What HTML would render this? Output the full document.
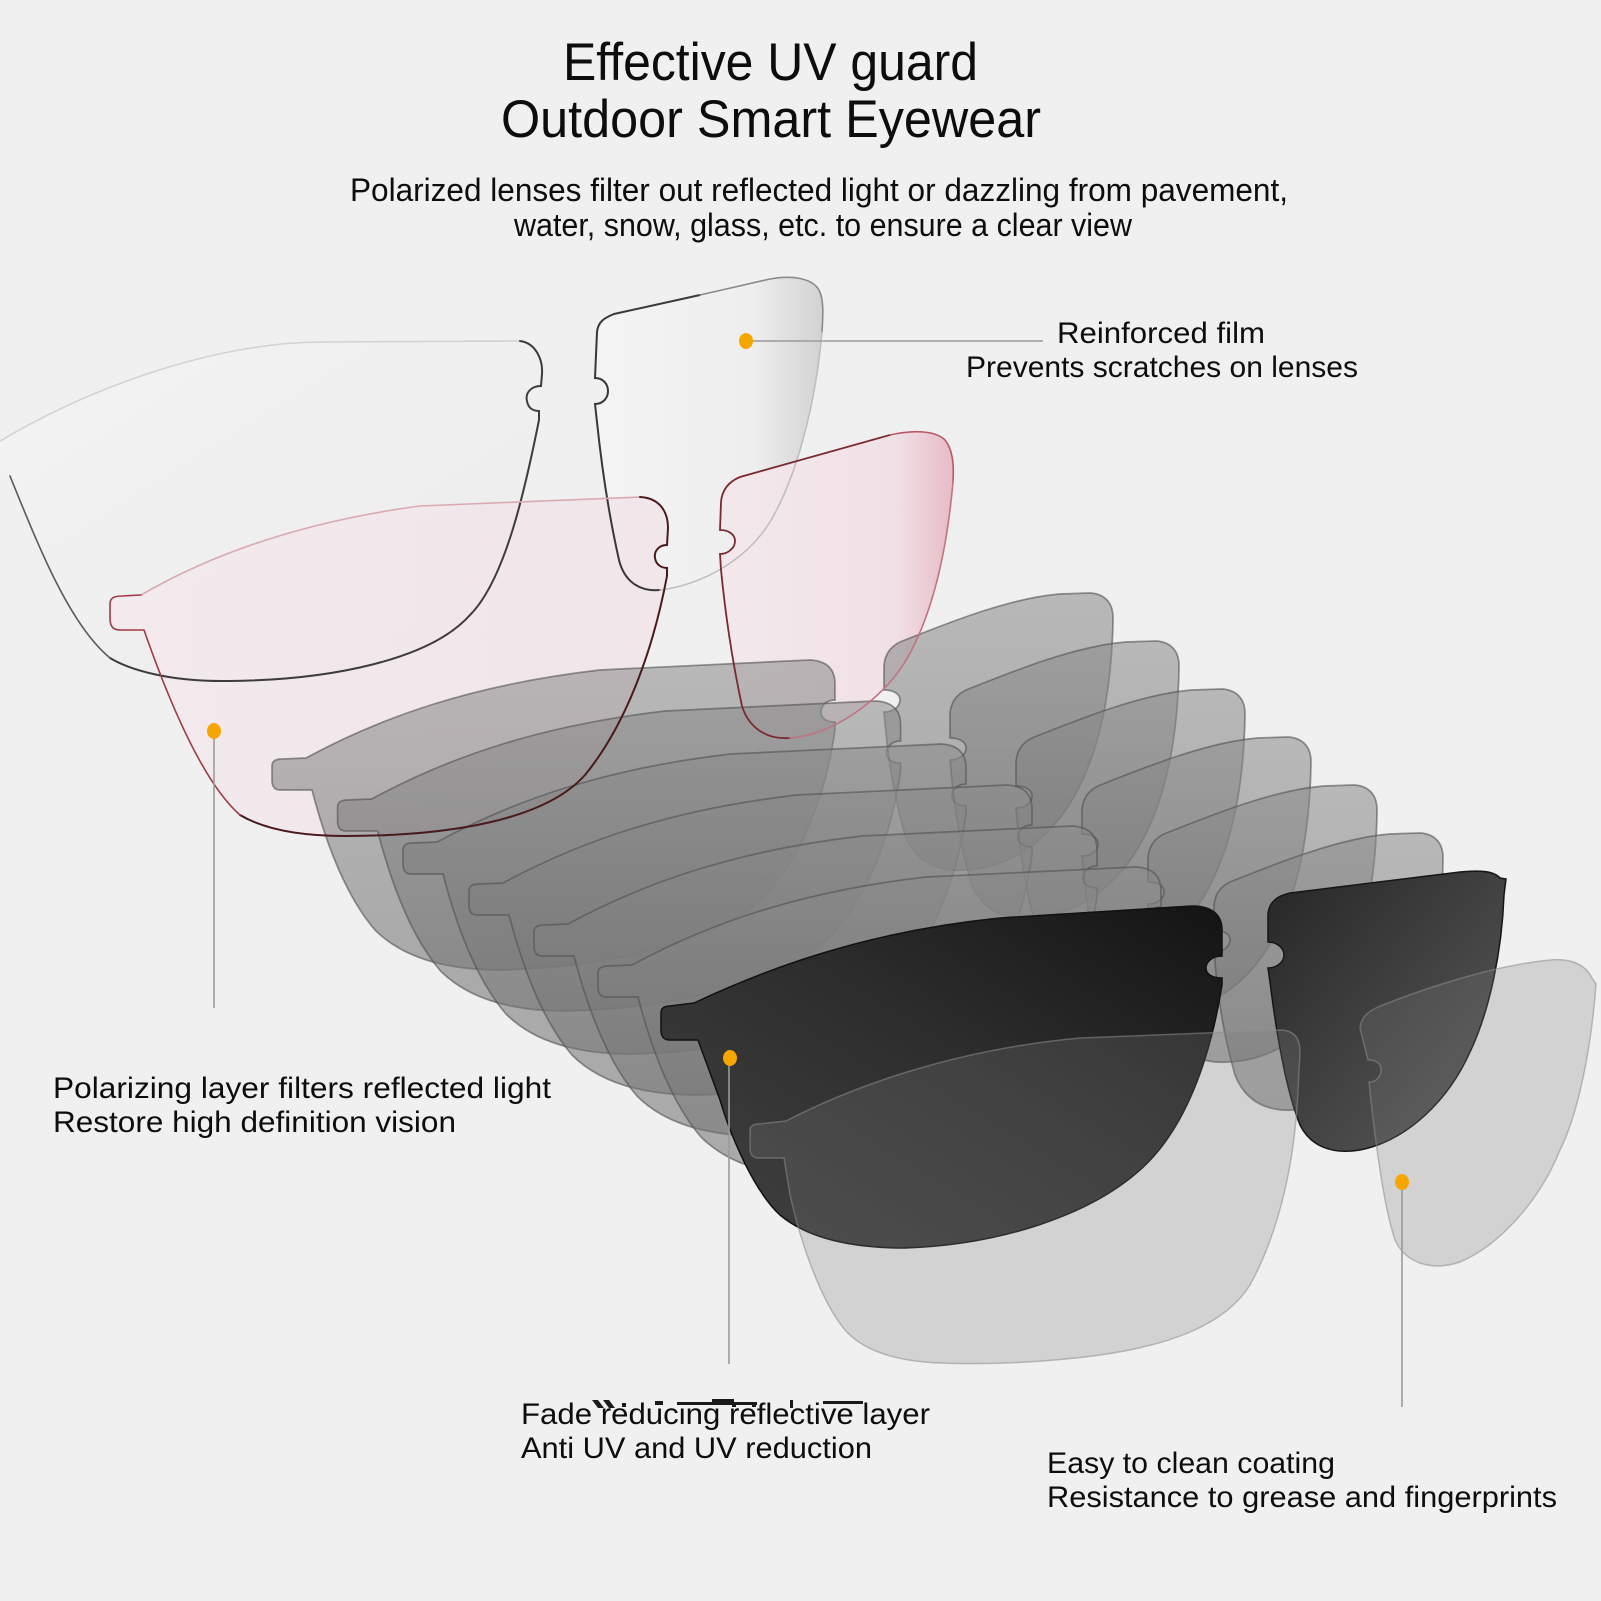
<!DOCTYPE html>
<html>
<head>
<meta charset="utf-8">
<style>
html,body{margin:0;padding:0;background:#f0f0f0;}
svg{display:block;}
text{font-family:"Liberation Sans","DejaVu Sans",sans-serif;fill:#0d0d0d;}
</style>
</head>
<body>
<svg width="1601" height="1601" viewBox="0 0 1601 1601" xmlns="http://www.w3.org/2000/svg">
<defs>
  <linearGradient id="gR1" x1="0" y1="0" x2="1" y2="0">
    <stop offset="0" stop-color="#f4f4f4"/>
    <stop offset="0.7" stop-color="#eeeeee"/>
    <stop offset="1" stop-color="#d2d2d2"/>
  </linearGradient>
  <linearGradient id="gL1" x1="0" y1="0" x2="1" y2="1">
    <stop offset="0" stop-color="#f3f3f3"/>
    <stop offset="1" stop-color="#ececec"/>
  </linearGradient>
  <linearGradient id="gL2" x1="0" y1="0" x2="1" y2="0">
    <stop offset="0" stop-color="#f3e9ed"/>
    <stop offset="1" stop-color="#f1e4e9"/>
  </linearGradient>
  <linearGradient id="gR2" x1="0" y1="0" x2="1" y2="0">
    <stop offset="0" stop-color="#f3e8ec"/>
    <stop offset="0.75" stop-color="#f1dfe5"/>
    <stop offset="1" stop-color="#e6b6c1"/>
  </linearGradient>
  <linearGradient id="gGray" x1="0" y1="0" x2="0" y2="1">
    <stop offset="0" stop-color="#8a8a8a"/>
    <stop offset="1" stop-color="#6e6e6e"/>
  </linearGradient>
  <linearGradient id="gDL" x1="0" y1="1" x2="1" y2="0">
    <stop offset="0" stop-color="#424242"/>
    <stop offset="0.55" stop-color="#2d2d2d"/>
    <stop offset="1" stop-color="#141414"/>
  </linearGradient>
  <linearGradient id="gDR" x1="0" y1="0" x2="1" y2="1">
    <stop offset="0" stop-color="#262626"/>
    <stop offset="1" stop-color="#5c5c5c"/>
  </linearGradient>

  <path id="GL" d="M 272,766 C 272,761 276,759 282,759 L 306,758 C 380,718 470,685 600,670 L 810,660 C 828,661 835,670 835,684 L 835,700 C 826,700 821,706 821,712 C 821,718 826,722 835,722 L 835,730 C 825,800 800,860 760,900 C 710,945 600,968 500,970 C 440,970 400,955 375,930 C 345,895 325,840 312,790 L 280,790 C 274,790 272,786 272,780 Z"/>
  <path id="GR" d="M 884,668 C 884,655 890,647 900,642 C 950,622 1010,598 1060,594 L 1090,593 C 1105,594 1113,603 1113,618 C 1112,690 1100,750 1075,795 C 1050,840 1010,868 965,870 C 935,872 915,860 905,835 C 895,800 888,760 885,722 L 884,712 C 894,712 900,706 900,700 C 900,694 894,690 884,690 Z"/>
  <path id="DL" d="M 661,1013 C 661,1008 664,1006 670,1006 L 694,1003 C 760,972 860,932 1000,918 L 1192,906 C 1212,906 1222,915 1222,930 L 1222,956 C 1212,956 1206,962 1206,968 C 1206,974 1212,978 1222,978 L 1222,985 C 1210,1060 1185,1130 1140,1170 C 1090,1215 1000,1245 905,1248 C 845,1248 805,1236 780,1215 C 755,1192 732,1140 720,1100 L 698,1040 L 670,1040 C 663,1040 661,1036 661,1030 Z"/>
  <path id="DR" d="M 1268,914 C 1269,902 1277,896 1290,893 L 1460,872 C 1480,870 1494,871 1500,878 L 1506,879 L 1504,895 C 1502,950 1490,1010 1470,1052 C 1450,1097 1410,1140 1360,1150 C 1330,1155 1310,1145 1300,1125 C 1286,1090 1276,1030 1270,982 L 1268,968 C 1277,968 1284,962 1284,955 C 1284,948 1277,942 1268,942 Z"/>
</defs>

<rect x="0" y="0" width="1601" height="1601" fill="#f0f0f0"/>

<!-- Layer 1: clear lens fills -->
<path d="M 0,441 C 100,382 220,343 320,342 L 520,341 C 536,343 543,360 542,374 L 541,386 C 531,386 525,393 527,401 C 528,408 533,411 539,411 L 539,420 C 525,490 505,580 470,615 C 430,660 330,680 230,681 C 170,682 130,670 110,658 C 70,625 40,550 10,476 L 0,470 Z" fill="url(#gL1)"/>
<path d="M 597,332 C 598,322 604,318 614,314 L 770,279 C 792,275 812,278 819,290 C 824,300 823,315 822,332 C 815,410 795,480 770,522 C 745,562 700,585 660,590 C 638,592 624,580 619,560 C 610,520 602,470 597,422 L 595,404 C 603,404 608,398 608,391 C 608,384 603,378 595,378 Z" fill="url(#gR1)"/>

<!-- Layer 2: pink lens fills -->
<path d="M 110,604 C 110,598 114,596 122,596 L 141,595 C 210,555 300,522 420,506 L 640,497 C 660,498 668,512 668,528 L 667,545 C 658,545 654,552 655,558 C 656,565 662,568 667,568 L 667,576 C 655,640 630,720 585,775 C 545,820 450,836 345,836 C 295,836 262,828 240,815 C 200,780 165,690 144,630 L 120,630 C 112,630 110,625 110,618 Z" fill="url(#gL2)" fill-opacity="0.85"/>
<path d="M 721,502 C 722,490 728,482 740,477 L 890,435 C 912,430 935,430 945,440 C 953,450 954,465 953,482 C 946,560 930,620 905,662 C 880,702 830,736 790,738 C 765,740 748,726 742,706 C 732,660 725,610 721,570 L 720,554 C 728,554 735,548 735,541 C 735,534 728,530 720,530 Z" fill="url(#gR2)" fill-opacity="0.9"/>

<!-- Gray layers -->
<g fill="url(#gGray)" fill-opacity="0.55" stroke="#505050" stroke-opacity="0.6" stroke-width="1.7">
  <use href="#GL"/>
  <use href="#GR"/>
  <use href="#GL" transform="translate(65.6,41)"/>
  <use href="#GR" transform="translate(66,48)"/>
  <use href="#GL" transform="translate(131,84)"/>
  <use href="#GR" transform="translate(132,96)"/>
  <use href="#GL" transform="translate(197,125)"/>
  <use href="#GR" transform="translate(198,144)"/>
  <use href="#GL" transform="translate(262,166)"/>
  <use href="#GR" transform="translate(264,192)"/>
  <use href="#GL" transform="translate(326,207)"/>
  <use href="#GR" transform="translate(330,240)"/>
</g>

<!-- Layer 1 outlines -->
<g fill="none" stroke-linecap="round">
  <path d="M 0,441 C 100,382 220,343 320,342 L 520,341" stroke="#d2d2d2" stroke-width="1.6"/>
  <path d="M 520,341 C 536,343 543,360 542,374 L 541,386 C 531,386 525,393 527,401 C 528,408 533,411 539,411 L 539,420 C 525,490 505,580 470,615 C 430,660 330,680 230,681 C 170,682 130,670 110,658" stroke="#3c3c3c" stroke-width="2"/>
  <path d="M 110,658 C 70,625 40,550 10,476" stroke="#5a5a5a" stroke-width="1.6"/>
  <path d="M 660,590 C 638,592 624,580 619,560 C 610,520 602,470 597,422 L 595,404 C 603,404 608,398 608,391 C 608,384 603,378 595,378 L 597,332 C 598,322 604,318 614,314 L 700,295" stroke="#383838" stroke-width="2"/>
  <path d="M 700,295 L 770,279 C 792,275 812,278 819,290 C 824,300 823,315 822,332" stroke="#8a8a8a" stroke-width="1.6"/>
  <path d="M 822,332 C 815,410 795,480 770,522 C 745,562 700,585 660,590" stroke="#bdbdbd" stroke-width="1.5"/>
</g>

<!-- Layer 2 outlines -->
<g fill="none" stroke-linecap="round">
  <path d="M 141,595 C 210,555 300,522 420,506 L 640,497" stroke="#d9aab2" stroke-width="1.6"/>
  <path d="M 640,497 C 660,498 668,512 668,528 L 667,545 C 658,545 654,552 655,558 C 656,565 662,568 667,568 L 667,576 C 655,640 630,720 585,775 C 545,820 450,836 345,836 C 295,836 262,828 240,815" stroke="#4a1a1a" stroke-width="2"/>
  <path d="M 240,815 C 200,780 165,690 144,630 L 120,630 C 112,630 110,625 110,618 L 110,604 C 110,598 114,596 122,596 L 141,595" stroke="#a03c44" stroke-width="1.6"/>
  <path d="M 790,738 C 765,740 748,726 742,706 C 732,660 725,610 721,570 L 720,554 C 728,554 735,548 735,541 C 735,534 728,530 720,530 L 721,502 C 722,490 728,482 740,477 L 890,435" stroke="#7a2a2e" stroke-width="1.8"/>
  <path d="M 890,435 C 912,430 935,430 945,440 C 953,450 954,465 953,482" stroke="#b85a66" stroke-width="1.6"/>
  <path d="M 953,482 C 946,560 930,620 905,662 C 880,702 830,736 790,738" stroke="#c07480" stroke-width="1.6"/>
</g>

<!-- Dark lenses -->
<use href="#DL" fill="url(#gDL)" stroke="#111" stroke-width="1.5"/>
<use href="#DR" fill="url(#gDR)" stroke="#151515" stroke-width="1.5"/>

<!-- Light front lens -->
<g fill="#7c7c7c" fill-opacity="0.26" stroke="#8c8c8c" stroke-opacity="0.55" stroke-width="1.5">
  <path d="M 750,1131 C 750,1126 753,1124 759,1124 L 786,1121 C 850,1088 950,1050 1080,1038 L 1280,1030 C 1294,1030 1300,1038 1300,1052 L 1298,1090 C 1295,1160 1280,1230 1250,1285 C 1225,1325 1170,1345 1100,1355 C 1050,1362 990,1365 940,1363 C 893,1361 863,1350 845,1330 C 820,1300 800,1240 790,1195 L 784,1158 L 759,1158 C 752,1158 750,1154 750,1148 Z"/>
  <path d="M 1360,1028 C 1361,1018 1367,1012 1378,1007 C 1420,990 1490,966 1550,960 C 1570,958 1585,964 1592,978 L 1596,984 C 1592,1040 1580,1110 1560,1150 C 1540,1200 1500,1245 1460,1262 C 1430,1272 1405,1262 1395,1240 C 1385,1210 1378,1160 1372,1110 L 1369,1082 C 1377,1082 1381,1076 1381,1070 C 1381,1064 1377,1060 1368,1060 Z"/>
</g>

<!-- Leader lines -->
<g stroke="#9a9a9a" stroke-width="1.6" fill="none">
  <line x1="746" y1="341" x2="1043" y2="341"/>
  <line x1="214" y1="730" x2="214" y2="1008"/>
  <line x1="729" y1="1058" x2="729" y2="1364"/>
  <line x1="1402" y1="1181" x2="1402" y2="1407"/>
</g>
<g fill="#f6a600">
  <ellipse cx="746" cy="341" rx="7" ry="8"/>
  <ellipse cx="214" cy="731" rx="7" ry="8"/>
  <ellipse cx="730" cy="1058" rx="7" ry="8"/>
  <ellipse cx="1402" cy="1182" rx="7" ry="8"/>
</g>

<!-- Title & subtitle -->
<text x="563" y="80" font-size="53" textLength="415" lengthAdjust="spacingAndGlyphs">Effective UV guard</text>
<text x="501" y="137" font-size="53" textLength="540" lengthAdjust="spacingAndGlyphs">Outdoor Smart Eyewear</text>
<text x="350" y="201" font-size="32" textLength="938" lengthAdjust="spacingAndGlyphs">Polarized lenses filter out reflected light or dazzling from pavement,</text>
<text x="514" y="236" font-size="32" textLength="618" lengthAdjust="spacingAndGlyphs">water, snow, glass, etc. to ensure a clear view</text>

<!-- Labels -->
<text x="1057" y="343" font-size="30" textLength="208" lengthAdjust="spacingAndGlyphs">Reinforced film</text>
<text x="966" y="377" font-size="30" textLength="392" lengthAdjust="spacingAndGlyphs">Prevents scratches on lenses</text>
<text x="53" y="1098" font-size="30" textLength="498" lengthAdjust="spacingAndGlyphs">Polarizing layer filters reflected light</text>
<text x="53" y="1132" font-size="30" textLength="403" lengthAdjust="spacingAndGlyphs">Restore high definition vision</text>
<text x="521" y="1424" font-size="30" textLength="409" lengthAdjust="spacingAndGlyphs">Fade reducing reflective layer</text>
<text x="521" y="1458" font-size="30" textLength="351" lengthAdjust="spacingAndGlyphs">Anti UV and UV reduction</text>
<text x="1047" y="1473" font-size="30" textLength="288" lengthAdjust="spacingAndGlyphs">Easy to clean coating</text>
<text x="1047" y="1507" font-size="30" textLength="510" lengthAdjust="spacingAndGlyphs">Resistance to grease and fingerprints</text>

<!-- stray marks above the fade label -->
<g fill="#1a1a1a">
  <polygon points="592,1400 598,1400 604,1408 598,1408"/>
  <polygon points="603,1400 609,1400 615,1408 609,1408"/>
  <rect x="622" y="1403" width="4" height="4"/>
  <rect x="655" y="1401" width="8" height="4"/>
  <rect x="677" y="1402" width="80" height="3"/>
  <rect x="712" y="1399" width="22" height="5"/>
  <rect x="732" y="1403" width="4" height="4"/>
  <rect x="752" y="1402" width="4" height="5"/>
  <rect x="790" y="1400" width="3" height="8"/>
  <rect x="823" y="1401" width="40" height="3"/>
</g>
</svg>
</body>
</html>
